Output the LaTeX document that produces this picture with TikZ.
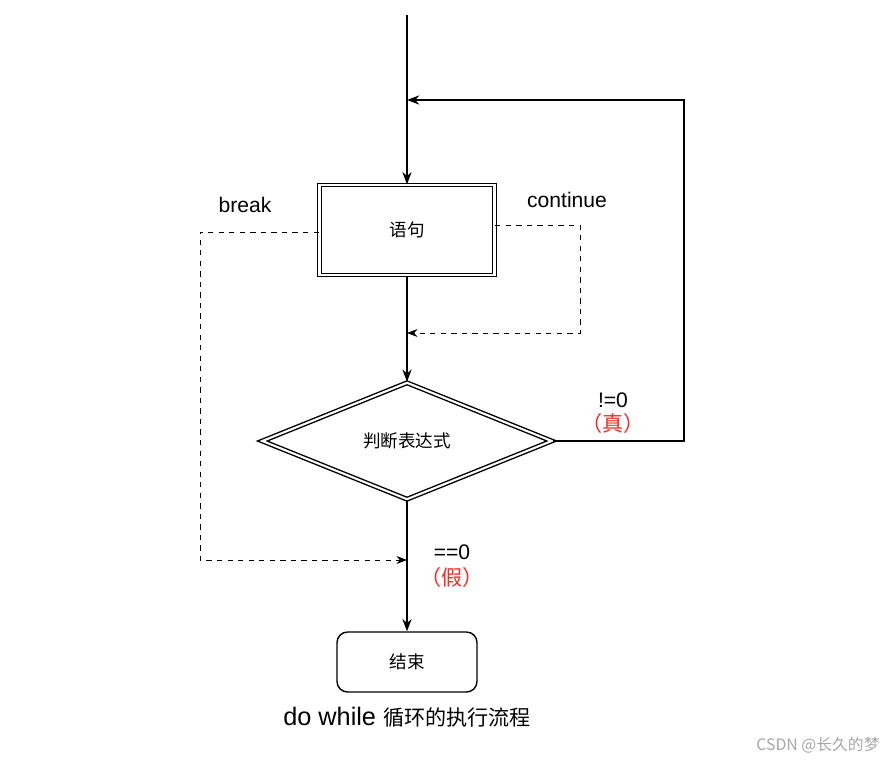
\documentclass[tikz,border=0pt]{standalone}
\usepackage{fontspec}
\setmainfont{Liberation Sans}
\newfontfamily\cjk{Noto Sans CJK SC}
\usetikzlibrary{arrows.meta,shapes.geometric}
\tikzset{
  flow/.style={draw, thick, double distance=1.2pt},
  link/.style={thick, -{Stealth[length=7pt]}},
  skip/.style={thin, dashed, -{Stealth[length=6pt]}},
  lbl/.style={font=\large},
  hint/.style={font=\cjk\large, red!80!pink}
}
\begin{document}
\begin{tikzpicture}[x=0.02cm, y=-0.02cm]
\useasboundingbox (0,0) rectangle (888,760);
% nodes
\coordinate (start) at (407,15);
\node[flow, minimum width=3.5cm, minimum height=1.8cm, font=\cjk] (stmt) at (407,230) {语句};
\node[flow, diamond, aspect=2.5, minimum width=5.8cm, minimum height=2.34cm, inner sep=0pt, font=\cjk] (cond) at (407,441) {判断表达式};
\node[draw, thick, rounded corners=6pt, minimum width=2.8cm, minimum height=1.2cm, font=\cjk] (stop) at (407,662) {结束};
\coordinate (back) at (407,100);
\coordinate (cont) at (407,333);
\coordinate (brk) at (407,560);
% connectors
\draw[link] (start) -- (stmt.north);
\draw[link] (stmt.south) -- (cond.north);
\draw[link] (cond.south) -- (stop.north);
\draw[link] (cond.east) -- (684,441) -- (684,100) -- (back);
\draw[skip] (stmt.east |- 0,225) -- (580,225) -- (580,333) -- (cont);
\draw[skip] (stmt.west |- 0,232) -- (200,232) -- (200,560) -- (brk);
% labels
\node[lbl] at (245,205) {break};
\node[lbl] at (567,200) {continue};
\node[lbl] at (613,400) {!=0};
\node[hint] at (613,423) {（真）};
\node[lbl] at (452,552) {==0};
\node[hint] at (452,577) {（假）};
\node[font=\Large] at (407,717) {do while {\cjk\large 循环的执行流程}};
\node[font=\cjk\small, gray!70] at (818,745) {CSDN @长久的梦};
\end{tikzpicture}
\end{document}
